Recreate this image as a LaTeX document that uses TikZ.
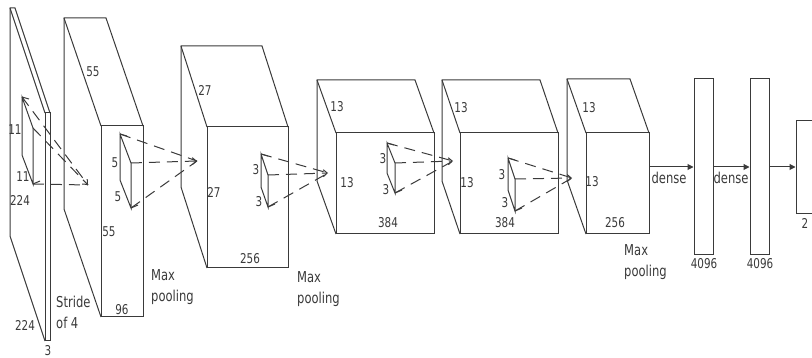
\documentclass[tikz,border=0pt]{standalone}
\usepackage{fontspec}
\setmainfont{DejaVu Sans}
\newfontfamily\narrowfont[FakeStretch=0.77]{DejaVu Sans}
\usetikzlibrary{arrows.meta}
\definecolor{ln}{HTML}{3A3A3A}
\tikzset{
  edge/.style={draw=ln, line width=1pt, line join=miter},
  kdash/.style={draw=ln, line width=1pt, dash pattern=on 11pt off 7pt},
  ktip/.style={kdash, -{Straight Barb[length=4pt,width=7pt]}},
  num/.style={text=ln, font=\narrowfont\fontsize{13.5}{15}\selectfont, inner sep=0pt},
  lbl/.style={text=ln, font=\narrowfont\fontsize{15}{18}\selectfont, inner sep=0pt, anchor=base west},
  dlbl/.style={text=ln, font=\narrowfont\fontsize{15}{18}\selectfont, inner sep=0pt},
  fcbox/.style={draw=ln, line width=1pt, inner sep=0pt},
  arr/.style={draw=ln, line width=1pt, -{Triangle[length=6pt,width=6pt]}},
}
% cuboid: x1 y1 x2 y2 dx dy
\newcommand\mycuboid[6]{%
  \draw[edge] (#1,#2) rectangle (#3,#4);
  \draw[edge] (#1,#4) -- ++(#5,#6) -- ++(0,#2-#4) -- ++(#3-#1,0) -- (#3,#2);
  \draw[edge] (#1,#2) -- ++(#5,#6);
}
% kernel: name, btx, bty, bby, ftx, fty, fby
\newcommand\mykernel[7]{%
  \coordinate (#1t) at (#2,#3);
  \coordinate (#1b) at (#2,#4);
  \coordinate (#1m) at (#5,#6);
  \coordinate (#1f) at (#5,#7);
  \draw[edge] (#1m) -- (#1t) -- (#1b) -- (#1f) -- (#1m);
  \draw[edge] (#1t) -- ++(7,2);
  \draw[edge] (#1f) -- ++(7,-3);
}
\begin{document}
\begin{tikzpicture}[x=1pt,y=-1pt]
\useasboundingbox (0,0) rectangle (812,358);
\clip (0,0) rectangle (812,358);
% layers
\mycuboid{45}{113}{50}{341}{-35}{-105}
\mycuboid{101}{126}{143}{317}{-37}{-108}
\mycuboid{207}{127}{288}{268}{-26}{-81}
\mycuboid{336}{133}{434}{234}{-19}{-53}
\mycuboid{460}{133}{558}{234}{-18}{-53}
\mycuboid{586}{133}{649}{234}{-19}{-54}

% kernels
\mykernel{ka}{22}{97}{155}{33}{128}{184}
\mykernel{kb}{120}{134}{180}{131}{163}{208}
\mykernel{kc}{261}{154}{187}{268}{175}{207}
\mykernel{kd}{387}{143}{173}{395}{163}{193}
\mykernel{ke}{508}{158}{190}{515}{179}{211}

% apex points
\coordinate (pa) at (88,185);
\coordinate (pb) at (197,161);
\coordinate (pc) at (328,173);
\coordinate (pd) at (453,161);
\coordinate (pe) at (572,178);

\foreach \k/\p in {ka/pa,kb/pb,kc/pc,kd/pd,ke/pe}{
  \draw[kdash] (\k t) -- (\p);
  \draw[kdash] (\k f) -- (\p);
  \draw[ktip] (\k m) -- (\p);
}

% dense layers
\node[fcbox, minimum width=19pt, minimum height=176pt] (d1) at (703.5,167) {};
\node[fcbox, minimum width=19pt, minimum height=176pt] (d2) at (759.5,167) {};
\node[fcbox, minimum width=34pt, minimum height=93pt] (d3) at (813,167) {};
\coordinate (c6) at (649,167);
\draw[arr] (c6) -- (d1.west);
\draw[arr] (d1.east) -- (d2.west);
\draw[arr] (d2.east) -- (d3.west);

% numbers
\node[num] (n1) at (15,130) {11};
\node[num] (n2) at (23,177) {11};
\node[num] (n3) at (20,200) {224};
\node[num] (n4) at (25,325) {224};
\node[num] (n5) at (48,351) {3};
\node[num] (n6) at (93,72) {55};
\node[num] (n7) at (115,163) {5};
\node[num] (n8) at (118,197) {5};
\node[num] (n9) at (109,232) {55};
\node[num] (n10) at (122,310) {96};
\node[num] (n11) at (205,90) {27};
\node[num] (n12) at (214,192) {27};
\node[num] (n13) at (250,259) {256};
\node[num] (n14) at (256,170) {3};
\node[num] (n15) at (259,202) {3};
\node[num] (n16) at (337,107) {13};
\node[num] (n17) at (347,183) {13};
\node[num] (n18) at (388,223) {384};
\node[num] (n19) at (383,159) {3};
\node[num] (n20) at (386,190) {3};
\node[num] (n21) at (461,108) {13};
\node[num] (n22) at (467,183) {13};
\node[num] (n23) at (505,223) {384};
\node[num] (n24) at (502,175) {3};
\node[num] (n25) at (505,203) {3};
\node[num] (n26) at (589,108) {13};
\node[num] (n27) at (592,182) {13};
\node[num] (n28) at (615,223) {256};
\node[num] (n29) at (704,264) {4096};
\node[num] (n30) at (760,264) {4096};
\node[num] (n31) at (805,223) {2};

% text labels
\node[lbl] (t1a) at (56,307.5) {Stride};
\node[lbl] (t1b) at (56,328.5) {of 4};
\node[lbl] (t2a) at (151,280.5) {Max};
\node[lbl] (t2b) at (151,301.5) {pooling};
\node[lbl] (t3a) at (297,282.5) {Max};
\node[lbl] (t3b) at (297,303.5) {pooling};
\node[lbl] (t4a) at (624,255.5) {Max};
\node[lbl] (t4b) at (624,276.5) {pooling};
\node[dlbl] (t5) at (669,178) {dense};
\node[dlbl] (t6) at (731,178) {dense};
\end{tikzpicture}
\end{document}
